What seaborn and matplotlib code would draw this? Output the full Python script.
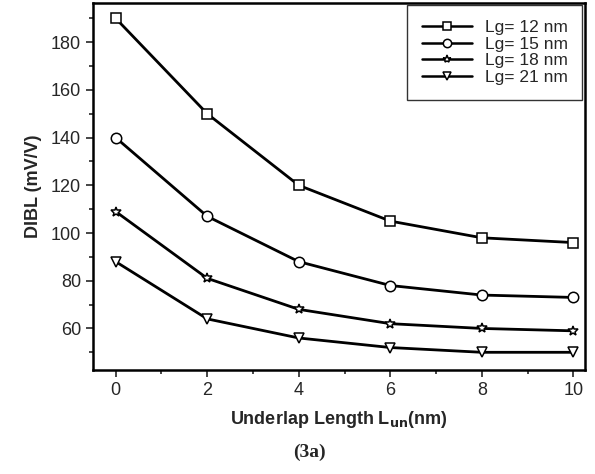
import pandas as pd
import seaborn as sns
import matplotlib.pyplot as plt
from matplotlib.ticker import MultipleLocator

# --- Data ---
underlap = [0, 2, 4, 6, 8, 10]
lg12 = [190, 150, 120, 105, 98, 96]
lg15 = [140, 107, 88, 78, 74, 73]
lg18 = [109, 81, 68, 62, 60, 59]
lg21 = [88, 64, 56, 52, 50, 50]
labels = ["Lg= 12 nm", "Lg= 15 nm", "Lg= 18 nm", "Lg= 21 nm"]

rows = []
for lab, vals in zip(labels, [lg12, lg15, lg18, lg21]):
    for x, y in zip(underlap, vals):
        rows.append({"Lun": x, "DIBL": y, "Lg": lab})
df = pd.DataFrame(rows)

sns.set_style("ticks")
plt.rcParams["font.family"] = ["Liberation Sans", "DejaVu Sans"]

fig = plt.figure(figsize=(5.95, 4.74), dpi=100)
ax = fig.add_axes([0.156, 0.219, 0.827, 0.775])

sns.lineplot(
    data=df, x="Lun", y="DIBL", hue="Lg", style="Lg",
    palette=["black"] * 4,
    markers={labels[0]: "s", labels[1]: "o", labels[2]: "*", labels[3]: "v"},
    dashes=False, markersize=7.5, markerfacecolor="white",
    markeredgecolor="black", markeredgewidth=1.1, linewidth=2, ax=ax,
)

ax.set_xlim(-0.5, 10.25)
ax.set_ylim(42.5, 196.5)
ax.xaxis.set_major_locator(MultipleLocator(2))
ax.xaxis.set_minor_locator(MultipleLocator(1))
ax.yaxis.set_minor_locator(MultipleLocator(10))
ax.set_yticks(range(60, 181, 20))
ax.tick_params(which="major", length=5, width=1.2, labelsize=13, direction="out")
ax.tick_params(which="minor", length=3, width=1.2, direction="out")
for s in ax.spines.values():
    s.set_linewidth(1.8)
    s.set_color("black")

ax.set_ylabel("DIBL (mV/V)", fontsize=13, weight="bold", labelpad=6)
ax.set_xlabel("Underlap Length L$_{\\mathbf{un}}$(nm)", fontsize=13, weight="bold", labelpad=7)

handles, _ = ax.get_legend_handles_labels()
leg = ax.legend(handles, labels, loc="upper right", fontsize=12.5, frameon=True,
                fancybox=False, borderaxespad=0.15, handlelength=2.9,
                labelspacing=0.08, borderpad=0.85, handletextpad=0.7, title=None)
leg.get_frame().set_edgecolor("black")
leg.get_frame().set_linewidth(1.0)
for h in leg.legend_handles:
    h.set_markersize(6)
    h.set_linewidth(1.8)

fig.text(0.52, 0.035, "(3a)", fontsize=14, weight="bold", ha="center",
         family=["Liberation Serif", "DejaVu Serif"])

fig.savefig("out.png", dpi=100)
